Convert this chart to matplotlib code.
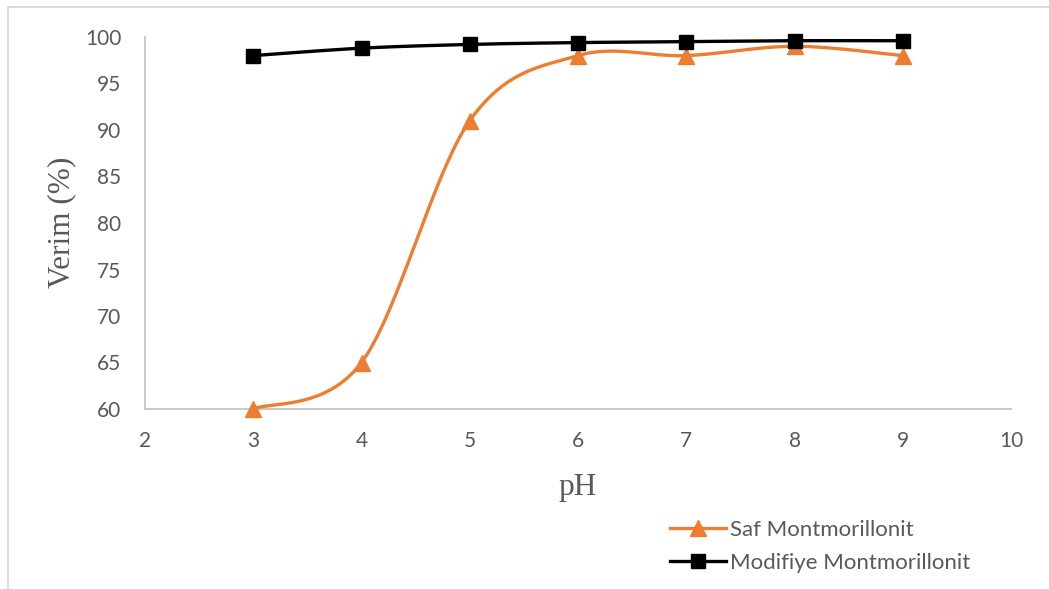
import numpy as np
import matplotlib
matplotlib.use("Agg")
import matplotlib.pyplot as plt
from matplotlib.patches import Rectangle
from matplotlib.lines import Line2D

# ---- data ----
ph = [3, 4, 5, 6, 7, 8, 9]
saf = [60, 65, 91, 98, 98, 99, 98]
modifiye = [98.0, 98.8, 99.2, 99.4, 99.5, 99.6, 99.6]
series_names = ["Saf Montmorillonit", "Modifiye Montmorillonit"]
xticks = [2, 3, 4, 5, 6, 7, 8, 9, 10]
yticks = [60, 65, 70, 75, 80, 85, 90, 95, 100]


def smooth(x, y, n=40):
    """Catmull-Rom style cubic Bezier smoothing (like Excel smoothed lines)."""
    x = np.asarray(x, float)
    y = np.asarray(y, float)
    xs, ys = [], []
    m = len(x)
    for i in range(m - 1):
        i0 = max(i - 1, 0)
        i3 = min(i + 2, m - 1)
        p0 = np.array([x[i0], y[i0]])
        p1 = np.array([x[i], y[i]])
        p2 = np.array([x[i + 1], y[i + 1]])
        p3 = np.array([x[i3], y[i3]])
        c1 = p1 + (p2 - p0) / 6.0
        c2 = p2 - (p3 - p1) / 6.0
        t = np.linspace(0, 1, n)[:, None]
        b = ((1 - t) ** 3) * p1 + 3 * ((1 - t) ** 2) * t * c1 + 3 * (1 - t) * t ** 2 * c2 + t ** 3 * p2
        if i > 0:
            b = b[1:]
        xs.extend(b[:, 0])
        ys.extend(b[:, 1])
    return np.array(xs), np.array(ys)


W, H = 1049, 589
fig = plt.figure(figsize=(W / 100, H / 100), dpi=100)
ax = fig.add_axes([145 / W, 1 - 409 / H, (1011 - 145) / W, (409 - 37) / H])

orange = "#ED7D31"
gray_txt = "#595959"
axis_col = "#BFBFBF"

sx, sy = smooth(ph, saf)
ax.plot(sx, sy, color=orange, lw=2.4, solid_capstyle="round", zorder=3)
ax.plot(ph, saf, ls="none", marker="^", ms=11, color=orange, zorder=4, clip_on=False)

mx, my = smooth(ph, modifiye)
ax.plot(mx, my, color="black", lw=2.4, zorder=5)
ax.plot(ph, modifiye, ls="none", marker="s", ms=10.5, color="black", zorder=6, clip_on=False)

ax.set_xlim(2, 10)
ax.set_ylim(60, 100)
ax.set_xticks(xticks)
ax.set_yticks(yticks)

for s in ["top", "right"]:
    ax.spines[s].set_visible(False)
for s in ["left", "bottom"]:
    ax.spines[s].set_color(axis_col)
    ax.spines[s].set_linewidth(1.2)

tick_font = "Lato"
ax.tick_params(axis="both", length=0, labelsize=15, labelcolor=gray_txt)
ax.tick_params(axis="y", pad=17)
ax.tick_params(axis="x", pad=16)
for lab in ax.get_xticklabels() + ax.get_yticklabels():
    lab.set_fontfamily(tick_font)

fig.text(62 / W, 1 - 222 / H, "Verim (%)", rotation=90, ha="center", va="center",
         fontsize=22.5, family="Liberation Serif", color=gray_txt)
fig.text(578 / W, 1 - 487 / H, "pH", ha="center", va="center",
         fontsize=22.5, family="Liberation Serif", color=gray_txt)

handles = [
    Line2D([], [], color=orange, lw=2.4, marker="^", ms=11),
    Line2D([], [], color="black", lw=2.4, marker="s", ms=10.5),
]
leg = fig.legend(handles, series_names, loc="upper left",
                 bbox_to_anchor=(670 / W, 1 - 520 / H), frameon=False,
                 handlelength=2.5, handletextpad=0.18, labelspacing=0.58,
                 borderpad=0, borderaxespad=0,
                 prop={"family": tick_font, "size": 16})
for t in leg.get_texts():
    t.set_color(gray_txt)

# chart border (outer frame, partly outside the image)
fig.patches.append(Rectangle((8 / W, -0.2), 1.5, 1.2 - 7 / H, transform=fig.transFigure,
                             fill=False, edgecolor="#D9D9D9", lw=1.3, clip_on=False))

fig.savefig("out.png", dpi=100, facecolor="white")
